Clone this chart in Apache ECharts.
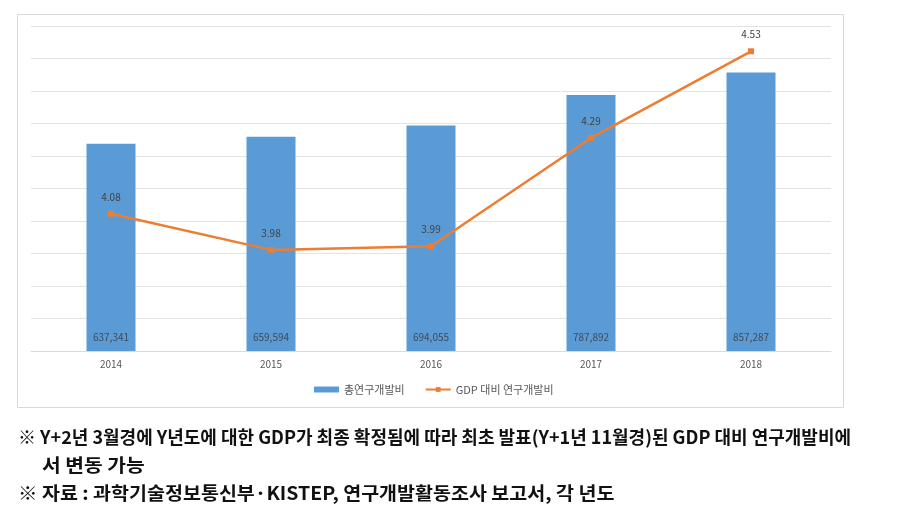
<!DOCTYPE html>
<html>
<head>
<meta charset="utf-8">
<script src="https://cdn.jsdelivr.net/npm/echarts@6/dist/echarts.min.js"></script>
<style>
html,body{margin:0;padding:0;background:#fff;}
#c{width:902px;height:514px;}
</style>
</head>
<body>
<div id="c"></div>
<script>
const categories = ['2014', '2015', '2016', '2017', '2018'];
const rdTotal = [637341, 659594, 694055, 787892, 857287];
const rdToGdp = [4.08, 3.98, 3.99, 4.29, 4.53];
const seriesNames = ['총연구개발비', 'GDP 대비 연구개발비'];
const notes = [
  '※ Y+2년 3월경에 Y년도에 대한 GDP가 최종 확정됨에 따라 최초 발표(Y+1년 11월경)된 GDP 대비 연구개발비에',
  '서 변동 가능',
  '※ 자료 : 과학기술정보통신부·KISTEP, 연구개발활동조사 보고서, 각 년도'
];

const chart = echarts.init(document.getElementById('c'));
const font = 'Noto Sans CJK KR, Noto Sans, sans-serif';
chart.setOption({
  animation: false,
  textStyle: { fontFamily: font },
  grid: { left: 31, right: 71, top: 26, bottom: 163 },
  legend: {
    top: 379,
    left: 309,
    itemGap: 20,
    itemWidth: 25,
    itemHeight: 6,
    textStyle: { fontSize: 11, color: '#595959', fontFamily: font },
    data: [
      { name: seriesNames[0], icon: 'rect' },
      { name: seriesNames[1] }
    ]
  },
  xAxis: {
    type: 'category',
    data: categories,
    axisLine: { lineStyle: { color: '#d9d9d9' } },
    axisTick: { show: false },
    axisLabel: { fontSize: 10, color: '#595959', margin: 8 }
  },
  yAxis: [
    {
      type: 'value', min: 0, max: 1000000, interval: 100000,
      axisLabel: { show: false }, axisLine: { show: false }, axisTick: { show: false },
      splitLine: { lineStyle: { color: '#e3e3e3', width: 1 } }
    },
    {
      type: 'value', min: 3.7, max: 4.6,
      axisLabel: { show: false }, axisLine: { show: false }, axisTick: { show: false },
      splitLine: { show: false }
    }
  ],
  series: [
    {
      name: seriesNames[0],
      type: 'bar',
      data: rdTotal,
      barWidth: 49,
      itemStyle: { color: '#5b9bd5' },
      label: {
        show: true, position: 'insideBottom', distance: 9,
        fontSize: 10, color: '#404a57',
        formatter: p => p.value.toLocaleString('en-US')
      }
    },
    {
      name: seriesNames[1],
      type: 'line',
      yAxisIndex: 1,
      data: rdToGdp,
      symbol: 'rect',
      symbolSize: 6,
      lineStyle: { color: '#ed7d31', width: 2.5 },
      itemStyle: { color: '#ed7d31' },
      label: {
        show: true, position: 'top', distance: 9,
        fontSize: 10, color: '#404040',
        formatter: p => p.value.toFixed(2)
      }
    }
  ],
  graphic: [
    {
      type: 'rect', z: -1, silent: true,
      shape: { x: 17.5, y: 14.5, width: 826, height: 393 },
      style: { fill: 'none', stroke: '#d9d9d9', lineWidth: 1 }
    },
    {
      type: 'text', x: 18, y: 437, scaleX: 1.0,
      style: { text: notes[0], font: 'bold 18px ' + font, fill: '#111', textVerticalAlign: 'middle' }
    },
    {
      type: 'text', x: 42, y: 465, scaleX: 1.13,
      style: { text: notes[1], font: 'bold 18px ' + font, fill: '#111', textVerticalAlign: 'middle' }
    },
    {
      type: 'text', x: 18, y: 493, scaleX: 1.085,
      style: { text: notes[2], font: 'bold 18px ' + font, fill: '#111', textVerticalAlign: 'middle' }
    }
  ]
});
</script>
</body>
</html>
